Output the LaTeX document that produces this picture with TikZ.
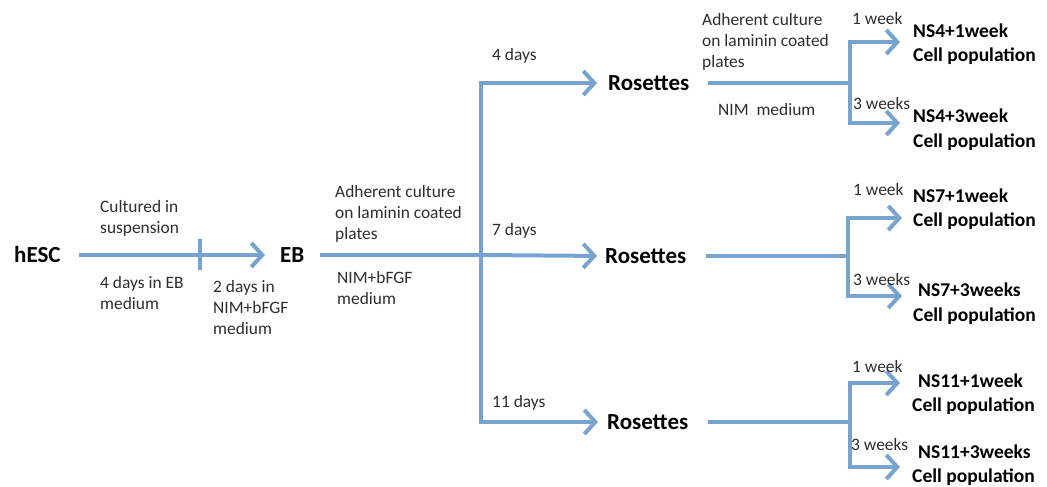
\documentclass[tikz,border=0pt]{standalone}
\usepackage{fontspec}
\setmainfont{Carlito}
\usetikzlibrary{arrows.meta,calc}
\definecolor{flow}{RGB}{118,163,207}
\definecolor{lbl}{RGB}{45,45,45}
\begin{document}
\begin{tikzpicture}[x=1pt,y=-1pt,
  line/.style={draw=flow,line width=4pt},
  arr/.style={line,-{Straight Barb[length=11pt,width=24pt]}},
  big/.style={font=\fontsize{23}{27}\selectfont\bfseries,inner sep=0pt,anchor=west},
  res/.style={font=\fontsize{19.5}{24.5}\selectfont\bfseries,align=left,inner sep=0pt,anchor=base west},
  note/.style={font=\fontsize{17.4}{21}\selectfont,text=lbl,align=left,inner sep=0pt,anchor=base west},
]
\useasboundingbox (0,0) rectangle (1047,487);
% main nodes
\node[big] (hesc) at (14,255) {hESC};
\node[big] (eb) at (280,255) {EB};
\node[big] (r1) at (608,83) {Rosettes};
\node[big] (r2) at (605,256) {Rosettes};
\node[big] (r3) at (607,422) {Rosettes};
% left connectors
\coordinate (tick) at (200,255);
\draw[arr,shorten <=18pt,shorten >=15pt] (hesc.east) -- (eb.west);
\draw[line] ($(tick)+(0,-16)$) -- ($(tick)+(0,15)$);
\coordinate (j) at (481,255);
\draw[line,shorten <=15pt] (eb.east) -- (j);
\draw[line] (j |- r1) -- (j |- r3);
\draw[arr,shorten >=11pt] (j) |- (r1.west);
\draw[arr,shorten >=8pt] (j) -- (r2.west);
\draw[arr,shorten >=9pt] (j) |- (r3.west);
% left labels (position = baseline of last line)
\node[note] (l1) at (100,233) {Cultured in\\suspension};
\node[note] (l2) at (100,309) {4 days in EB\\medium};
\node[note] (l3) at (213,334) {2 days in\\NIM+bFGF\\medium};
\node[note] (l4) at (335,239) {Adherent culture\\on laminin coated\\plates};
\node[note] (l5) at (337,304) {NIM+bFGF\\medium};
\node[note] (d4) at (492,61) {4 days};
\node[note] (d7) at (492,235) {7 days};
\node[note] (d11) at (492,407) {11 days};
\node[note,font=\fontsize{17.4}{21.5}\selectfont] (l6) at (702,68) {Adherent culture\\on laminin coated\\plates};
\node[note] (l7) at (718,115) {NIM\ \ medium};
% right branches
\coordinate (k1) at (850,83);
\coordinate (k2) at (848,256);
\coordinate (k3) at (850,422);
\coordinate (t41) at (900,42);
\coordinate (t43) at (900,123);
\coordinate (t71) at (902,218);
\coordinate (t73) at (902,296);
\coordinate (t111) at (900,383);
\coordinate (t113) at (900,467);
\draw[line,shorten <=19pt] (r1.east) -- (k1);
\draw[line,shorten <=20pt] (r2.east) -- (k2);
\draw[line,shorten <=20pt] (r3.east) -- (k3);
\draw[line] (k1 |- t41) -- (k1 |- t43);
\draw[line] (k2 |- t71) -- (k2 |- t73);
\draw[line] (k3 |- t111) -- (k3 |- t113);
\draw[arr] (k1) |- (t41);
\draw[arr] (k1) |- (t43);
\draw[arr] (k2) |- (t71);
\draw[arr] (k2) |- (t73);
\draw[arr] (k3) |- (t111);
\draw[arr] (k3) |- (t113);
% week labels
\node[note] (w41) at (852,25) {1 week};
\node[note] (w43) at (853,110) {3 weeks};
\node[note] (w71) at (853,195) {1 week};
\node[note] (w73) at (853,285) {3 weeks};
\node[note] (w111) at (852,372) {1 week};
\node[note] (w113) at (851,450) {3 weeks};
% results (position = baseline of last line)
\node[res] (n41) at (913,61.5) {NS4+1week\\Cell population};
\node[res] (n43) at (913,147) {NS4+3week\\Cell population};
\node[res] (n71) at (913,226.5) {NS7+1week\\Cell population};
\node[res] (n73) at (913,321) {\hspace{5pt}NS7+3weeks\\Cell population};
\node[res] (n111) at (912,411.5) {\hspace{6pt}NS11+1week\\Cell population};
\node[res,font=\fontsize{19.5}{23.5}\selectfont\bfseries] (n113) at (912,482) {\hspace{6pt}NS11+3weeks\\Cell population};
\end{tikzpicture}
\end{document}
